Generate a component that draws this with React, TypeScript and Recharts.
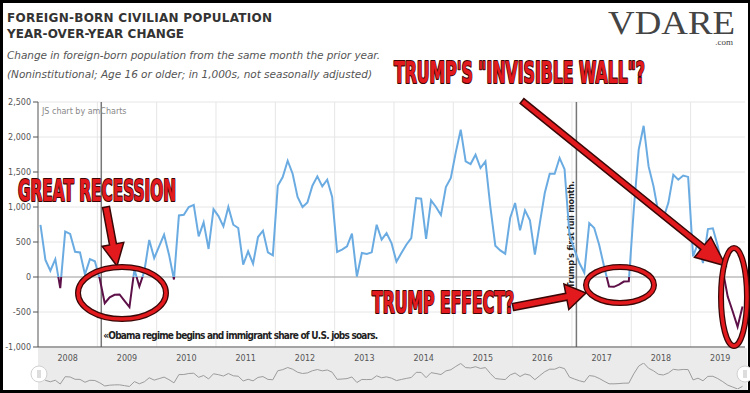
import React from 'react';
import { LineChart, Line, XAxis, YAxis, CartesianGrid, ReferenceLine } from 'recharts';

// year-over-year change in foreign-born population, thousands, monthly from Jan 2008
const yearLabels = ['2008', '2009', '2010', '2011', '2012', '2013', '2014', '2015', '2016', '2017', '2018', '2019'];
const v2008 = [745, 245, 90, 255, -160, 650, 615, 360, 350, 35, 255, 225];
const v2009 = [-30, -375, -290, -255, -250, -340, -430, 105, -135, 80, 530, 270];
const v2010 = [437, 604, 319, -35, 880, 890, 1000, 1030, 580, 780, 400, 970];
const v2011 = [870, 723, 1000, 747, 700, 176, 366, 190, 571, 661, 352, 309];
const v2012 = [1304, 1428, 1661, 1476, 1143, 1000, 1066, 1304, 1438, 1295, 1390, 1143];
const v2013 = [357, 390, 438, 619, 5, 343, 328, 352, 747, 533, 628, 485];
const v2014 = [219, 343, 461, 557, 1128, 1119, 543, 1095, 1000, 886, 1285, 1414];
const v2015 = [1780, 2104, 1652, 1614, 1747, 1557, 1652, 1000, 447, 380, 333, 843];
const v2016 = [1057, 666, 952, 809, 319, 771, 1200, 1476, 1476, 1700, 1540, 600];
const v2017 = [390, 200, 60, 770, 700, 460, 150, -135, -140, -110, -65, -60];
const v2018 = [960, 1820, 2160, 1580, 1295, 910, 840, 1060, 1460, 1390, 1450, 1430];
const v2019 = [295, 485, 200, 685, 695, 440, 100, -280, -490, -710, -420];

const yTicks = [-1000, -500, 0, 500, 1000, 1500, 2000, 2500];

const years = [v2008, v2009, v2010, v2011, v2012, v2013, v2014, v2015, v2016, v2017, v2018, v2019];
const data = years.flat().map((v, i) => ({ i, v }));
const last = data.length - 1;

// year starts (index) for labels and grid
const starts: number[] = [];
years.reduce((acc, ys) => { starts.push(acc); return acc + ys.length; }, 0);
const labelTicks = starts.map((s) => s + 5.5);
const boundaries = starts.slice(1).map((s) => s - 0.5);

const maxV = Math.max(...data.map((d) => d.v));
const minV = Math.min(...data.map((d) => d.v));
const zeroOff = maxV / (maxV - minV);

const BLUE = '#6aabe2';
const PURPLE = '#5e1149';
const RED = '#e2191d';
const DARK = '#3a0707';
const FONT = '"DejaVu Sans", Verdana, sans-serif';
const CAPS = '"DejaVu Sans Condensed", "Liberation Sans Narrow", "DejaVu Sans", sans-serif';

function arrowPts(x1: number, y1: number, x2: number, y2: number, sw: number, hw: number, hl: number) {
  const dx = x2 - x1, dy = y2 - y1;
  const len = Math.hypot(dx, dy);
  const ux = dx / len, uy = dy / len, px = -uy, py = ux;
  const bx = x2 - ux * hl, by = y2 - uy * hl;
  const p = [
    [x1 + px * sw / 2, y1 + py * sw / 2],
    [bx + px * sw / 2, by + py * sw / 2],
    [bx + px * hw / 2, by + py * hw / 2],
    [x2, y2],
    [bx - px * hw / 2, by - py * hw / 2],
    [bx - px * sw / 2, by - py * sw / 2],
    [x1 - px * sw / 2, y1 - py * sw / 2],
  ];
  return p.map((q) => q.join(',')).join(' ');
}

const Oval = ({ cx, cy, rx, ry }: { cx: number; cy: number; rx: number; ry: number }) => (
  <g>
    <ellipse cx={cx} cy={cy} rx={rx} ry={ry} fill="none" stroke={DARK} strokeWidth={6} />
    <ellipse cx={cx} cy={cy} rx={rx} ry={ry} fill="none" stroke={RED} strokeWidth={3.5} />
  </g>
);

const Caption = ({ x, y, w, size, children }: any) => (
  <text x={x} y={y} textLength={w} lengthAdjust="spacingAndGlyphs" fontFamily={CAPS} fontWeight="bold"
    fontSize={size} fill={RED} stroke={DARK} strokeWidth={2.2} paintOrder="stroke" strokeLinejoin="round">
    {children}
  </text>
);

const obamaLabel = (p: any) => {
  const vb = p.viewBox || {};
  return (
    <text x={vb.x + 2} y={vb.y + vb.height - 8} fontFamily={CAPS} fontWeight="bold" fontSize={10}
      textLength={275} fill="#222">
      «Obama regime begins and immigrant share of U.S. jobs soars.
    </text>
  );
};

const trumpLabel = (p: any) => {
  const vb = p.viewBox || {};
  const x = vb.x - 2;
  const y = 288;
  return (
    <text x={x} y={y} transform={`rotate(-90 ${x} ${y})`} fontFamily={CAPS} fontWeight="bold" fontSize={9}
      textLength={107} fill="#222">
      Trump's first full month.
    </text>
  );
};

export default function App() {
  return (
    <div style={{ position: 'absolute', left: 0, top: 0, width: 750, height: 393, background: '#000', overflow: 'hidden' }}>
      <div style={{ position: 'absolute', left: 3, top: 3, width: 745, height: 387, background: '#fff' }} />
      <div style={{ position: 'absolute', left: 38, top: 348, width: 709, height: 42, background: '#ebebeb' }} />

      <div style={{ position: 'absolute', left: 0, top: 0 }}>
        <LineChart width={750} height={393} data={data} margin={{ top: 102, right: 5, bottom: 31, left: 0 }}>
          <defs>
            <linearGradient id="posneg" x1="0" y1="0" x2="0" y2="1">
              <stop offset={zeroOff} stopColor={BLUE} />
              <stop offset={zeroOff} stopColor={PURPLE} />
            </linearGradient>
          </defs>
          <CartesianGrid vertical={false} stroke="#e6e6e6" />
          {boundaries.map((b) => (
            <ReferenceLine key={b} x={b} stroke="#e6e6e6" />
          ))}
          <ReferenceLine y={0} stroke="#a8a8a8" strokeWidth={1.2} />
          <XAxis dataKey="i" type="number" domain={[-0.5, last + 0.5]} ticks={labelTicks}
            tickFormatter={(t: number) => yearLabels[labelTicks.indexOf(t)] ?? ''}
            height={15} tickLine={false} axisLine={{ stroke: '#555' }} interval={0}
            tick={{ fontSize: 8, fill: '#555', fontFamily: FONT }} tickMargin={2} />
          <YAxis width={38} domain={[-1000, 2500]} ticks={yTicks} interval={0}
            tickFormatter={(t: number) => t.toLocaleString('en-US')}
            tick={{ fontSize: 8, fill: '#555', fontFamily: FONT }}
            axisLine={{ stroke: '#555' }} tickLine={{ stroke: '#555' }} tickSize={5} tickMargin={2} />
          <ReferenceLine x={12.3} stroke="#777" strokeWidth={1.5} label={obamaLabel} />
          <ReferenceLine x={108.4} stroke="#777" strokeWidth={1.5} label={trumpLabel} />
          <Line type="linear" dataKey="v" stroke="url(#posneg)" strokeWidth={2} dot={false}
            isAnimationActive={false} />
        </LineChart>
      </div>

      <div style={{ position: 'absolute', left: 38, top: 363, width: 707, height: 26 }}>
        <LineChart width={707} height={26} data={data} margin={{ top: 0, right: 0, bottom: 0, left: 0 }}>
          <XAxis dataKey="i" type="number" domain={[-0.5, last + 0.5]} hide />
          <YAxis domain={[minV, maxV]} hide />
          <Line type="linear" dataKey="v" stroke="#9c9c9c" strokeWidth={1} dot={false} isAnimationActive={false} />
        </LineChart>
      </div>

      <svg width={750} height={393} style={{ position: 'absolute', left: 0, top: 0, pointerEvents: 'none' }}>
        <text x={7} y={22} fontFamily={FONT} fontWeight="bold" fontSize={12} fill="#333" textLength={265}>
          FOREIGN-BORN CIVILIAN POPULATION
        </text>
        <text x={7} y={38} fontFamily={FONT} fontWeight="bold" fontSize={12} fill="#333" textLength={177}>
          YEAR-OVER-YEAR CHANGE
        </text>
        <text x={7} y={59} fontFamily={FONT} fontStyle="italic" fontSize={10.5} fill="#555" textLength={373}>
          Change in foreign-born population from the same month the prior year.
        </text>
        <text x={7} y={78} fontFamily={FONT} fontStyle="italic" fontSize={10.5} fill="#555" textLength={365}>
          (Noninstitutional; Age 16 or older; in 1,000s, not seasonally adjusted)
        </text>
        <text x={42} y={114} fontFamily={FONT} fontSize={8} fill="#888">JS chart by amCharts</text>

        <text x={608} y={34} fontFamily='"Liberation Serif", "DejaVu Serif", serif' fontSize={34} fill="#444"
          textLength={127} lengthAdjust="spacingAndGlyphs">VDARE</text>
        <text x={733} y={45} textAnchor="end" fontFamily='"Liberation Serif", serif' fontSize={9} fill="#444">.com</text>

        <Caption x={18} y={201} w={158} size={30}>GREAT RECESSION</Caption>
        <Caption x={394} y={83} w={251} size={30}>TRUMP'S "INVISIBLE WALL"?</Caption>
        <Caption x={372} y={313} w={142} size={30}>TRUMP EFFECT?</Caption>

        <polygon points={arrowPts(106, 207, 117, 266, 7, 22, 22)} fill={RED} stroke={DARK} strokeWidth={1.5} />
        <polygon points={arrowPts(522, 101, 726, 266, 6, 26, 30)} fill={RED} stroke={DARK} strokeWidth={1.5} />
        <polygon points={arrowPts(513, 307, 586, 293, 7, 26, 20)} fill={RED} stroke={DARK} strokeWidth={1.5} />

        <Oval cx={122} cy={293} rx={44} ry={26} />
        <Oval cx={620} cy={285} rx={34} ry={18} />
        <Oval cx={734} cy={297} rx={13} ry={49} />

        <circle cx={39} cy={374} r={8} fill="#fff" stroke="#d0d0d0" />
        <line x1={38} y1={370} x2={38} y2={378} stroke="#bbb" />
        <line x1={40} y1={370} x2={40} y2={378} stroke="#bbb" />
        <circle cx={745} cy={374} r={8} fill="#fff" stroke="#d0d0d0" />
        <line x1={744} y1={370} x2={744} y2={378} stroke="#bbb" />
        <line x1={746} y1={370} x2={746} y2={378} stroke="#bbb" />
      </svg>
    </div>
  );
}
